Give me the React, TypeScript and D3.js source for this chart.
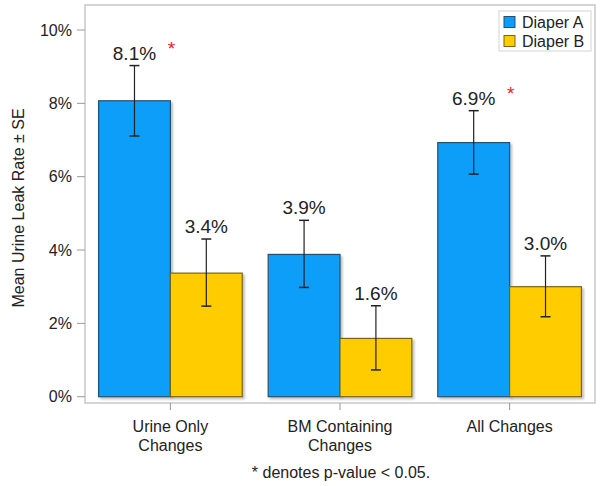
import React, { useEffect } from 'react';
import * as d3 from 'd3';

// values (percent)
const categories = ['Urine Only Changes', 'BM Containing Changes', 'All Changes'];
const categoryLines = [['Urine Only', 'Changes'], ['BM Containing', 'Changes'], ['All Changes']];
const seriesNames = ['Diaper A', 'Diaper B'];
const diaperA = [8.07, 3.88, 6.93];
const diaperALow = [7.11, 2.98, 6.07];
const diaperAHigh = [9.03, 4.81, 7.8];
const diaperB = [3.37, 1.59, 3.0];
const diaperBLow = [2.47, 0.73, 2.18];
const diaperBHigh = [4.3, 2.48, 3.84];
const significant = [true, false, true];
const yTicks = [0, 2, 4, 6, 8, 10];

const colors = ['#0A9EFA', '#FFCC00'];
const borders = ['#28506E', '#7A6418'];
const font = '"Liberation Sans", Arial, sans-serif';

export default function App() {
    useEffect(() => {
        document.body.style.margin = '0';
    }, []);

    const W = 602, H = 486;
    const frame = { left: 85, top: 5, right: 595, bottom: 403 };

    const y = d3.scaleLinear().domain([0, 10]).range([396.7, 30]);
    const x = d3.scaleBand()
        .domain(categories)
        .range([frame.left, frame.right])
        .paddingInner(0.153)
        .paddingOuter(0.08);
    const xs = d3.scaleBand().domain(seriesNames).range([0, x.bandwidth()]);

    const rows = categories.map((c, i) => ({
        cat: c,
        bars: [
            { s: seriesNames[0], v: diaperA[i], lo: diaperALow[i], hi: diaperAHigh[i], k: 0 },
            { s: seriesNames[1], v: diaperB[i], lo: diaperBLow[i], hi: diaperBHigh[i], k: 1 },
        ],
        sig: significant[i],
    }));

    const fmt = d3.format('.1f');

    return (
        <svg width={W} height={H} style={{ display: 'block', fontFamily: font }}>
            <defs>
                <filter id="shadow" x="-10%" y="-10%" width="130%" height="130%">
                    <feGaussianBlur in="SourceAlpha" stdDeviation="1.2" />
                    <feOffset dx="2" dy="2" result="b" />
                    <feComponentTransfer><feFuncA type="linear" slope="0.25" /></feComponentTransfer>
                    <feMerge><feMergeNode /><feMergeNode in="SourceGraphic" /></feMerge>
                </filter>
            </defs>
            <rect x={0} y={0} width={W} height={H} fill="#fff" />

            {/* plot frame */}
            <rect x={frame.left} y={frame.top} width={frame.right - frame.left} height={frame.bottom - frame.top}
                fill="none" stroke="#C8C8C8" strokeWidth={1.5} />

            {/* y axis */}
            {yTicks.map(t => (
                <g key={t}>
                    <line x1={77} x2={frame.left} y1={y(t)} y2={y(t)} stroke="#999" strokeWidth={1} />
                    <text x={72} y={y(t)} dy="0.35em" textAnchor="end" fontSize={16} fill="#222">{t}%</text>
                </g>
            ))}
            <text transform={`translate(24,208) rotate(-90)`} textAnchor="middle" fontSize={16} fill="#222">
                Mean Urine Leak Rate ± SE
            </text>

            {/* x axis */}
            {categories.map((c, i) => {
                const cx = (x(c) as number) + x.bandwidth() / 2;
                return (
                    <g key={c}>
                        <line x1={cx} x2={cx} y1={frame.bottom} y2={410} stroke="#999" strokeWidth={1} />
                        {categoryLines[i].map((l, j) => (
                            <text key={j} x={cx} y={432 + j * 18.5} textAnchor="middle" fontSize={16} fill="#222">{l}</text>
                        ))}
                    </g>
                );
            })}

            {/* bars */}
            {rows.map(r => (
                <g key={r.cat} transform={`translate(${x(r.cat)},0)`}>
                    {r.bars.map(b => {
                        const bx = xs(b.s) as number;
                        const bw = xs.bandwidth();
                        const cx = bx + bw / 2;
                        return (
                            <g key={b.s}>
                                <rect x={bx} y={y(b.v)} width={bw} height={y(0) - y(b.v)}
                                    fill={colors[b.k]} stroke={borders[b.k]} strokeWidth={1.2} filter="url(#shadow)" />
                                <line x1={cx} x2={cx} y1={y(b.hi)} y2={y(b.lo)} stroke="#222" strokeWidth={1.2} />
                                <line x1={cx - 5} x2={cx + 5} y1={y(b.hi)} y2={y(b.hi)} stroke="#222" strokeWidth={1.5} />
                                <line x1={cx - 5} x2={cx + 5} y1={y(b.lo)} y2={y(b.lo)} stroke="#222" strokeWidth={1.5} />
                                <text x={cx} y={y(b.hi) - 6} textAnchor="middle" fontSize={19} fill="#222">
                                    {fmt(b.v)}%
                                </text>
                                {b.k === 0 && r.sig && (
                                    <text x={bx + bw + 1} y={y(b.hi) - 11} textAnchor="middle" fontSize={19}
                                        fill="#E8202A">*</text>
                                )}
                            </g>
                        );
                    })}
                </g>
            ))}

            {/* legend */}
            <g>
                <rect x={499} y={11} width={92} height={40} fill="#fff" stroke="#D4D4D4" strokeWidth={1} />
                {seriesNames.map((s, i) => (
                    <g key={s} transform={`translate(504,${16.5 + i * 19})`}>
                        <rect x={0} y={0} width={11} height={11} fill={colors[i]} stroke={borders[i]} strokeWidth={1} />
                        <text x={18} y={11} fontSize={16} fill="#222">{s}</text>
                    </g>
                ))}
            </g>

            {/* footnote */}
            <text x={341} y={478} textAnchor="middle" fontSize={16} fill="#222">* denotes p-value &lt; 0.05.</text>
        </svg>
    );
}
